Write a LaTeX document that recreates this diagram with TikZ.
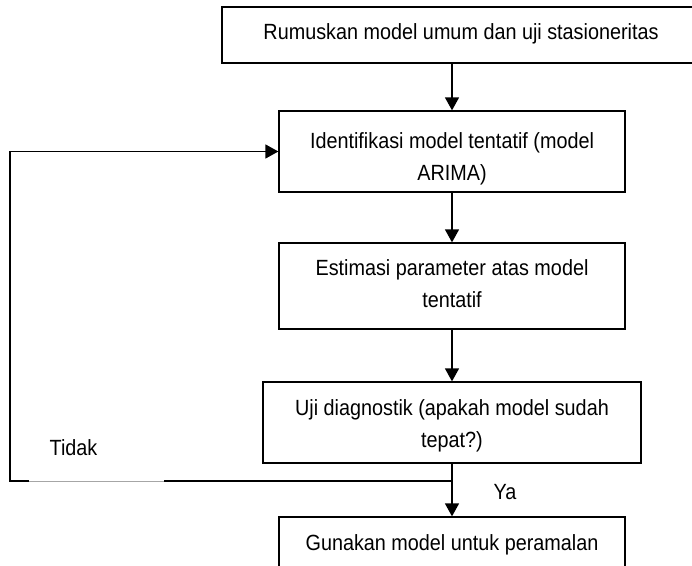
\documentclass[tikz,border=0pt]{standalone}
\usepackage{fontspec}
\setmainfont{Liberation Sans}[FakeStretch=0.9]
\usetikzlibrary{arrows.meta}
\begin{document}
\begin{tikzpicture}[x=1pt,y=-1pt,
  every node/.style={font=\fontsize{22}{32}\selectfont},
  boxnode/.style={draw=black, line width=1.3pt, inner sep=0pt, anchor=center},
  boxtext/.style={align=center, inner sep=0pt, anchor=center},
  conn/.style={line width=1.5pt, -{Triangle[width=14pt,length=13pt]}}]
\useasboundingbox (0,0) rectangle (692,565);
\fill[white] (0,0) rectangle (692,565);
\node[boxnode, minimum width=478pt, minimum height=56pt] (b1) at (461,35) {};
\node[boxtext] (t1) at (461,34) {Rumuskan model umum dan uji stasioneritas};
\node[boxnode, minimum width=346pt, minimum height=81pt] (b2) at (452,151.5) {};
\node[boxtext] (t2) at (452,158.5) {Identifikasi model tentatif (model\\ARIMA)};
\node[boxnode, minimum width=346pt, minimum height=86pt] (b3) at (452,286) {};
\node[boxtext] (t3) at (452,283.5) {Estimasi parameter atas model\\tentatif};
\node[boxnode, minimum width=378pt, minimum height=81pt] (b4) at (452,422.5) {};
\node[boxtext] (t4) at (452,425.5) {Uji diagnostik (apakah model sudah\\tepat?)};
\node[boxnode, minimum width=346pt, minimum height=52pt] (b5) at (452,543) {};
\node[boxtext] (t5) at (452,545) {Gunakan model untuk peramalan};
\coordinate (j) at (452,481);
\coordinate (c1) at (10,481);
\coordinate (g1) at (29,481);
\coordinate (g2) at (164,481);
\draw[conn] (b1.south -| b2.north) -- (b2.north);
\draw[conn] (b2.south) -- (b3.north);
\draw[conn] (b3.south) -- (b4.north);
\draw[conn] (b4.south) -- (b5.north);
\draw[conn] (j) -- (c1) |- (b2.west);
\draw[white, line width=1.7pt] (g1) -- (g2);
\draw[gray!70, line width=0.6pt] (g1) -- (g2);
\node (tidak) at (73.5,448) {Tidak};
\node (ya) at (505,492) {Ya};
\end{tikzpicture}
\end{document}
